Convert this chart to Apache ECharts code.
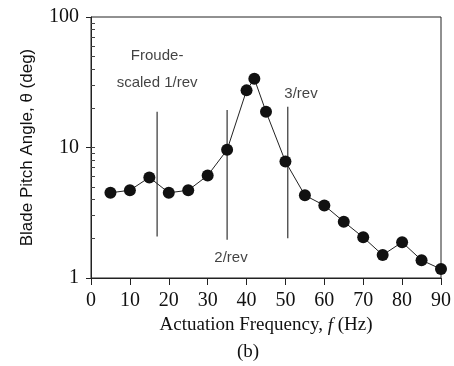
<!DOCTYPE html>
<html>
<head>
<meta charset="utf-8">
<script src="https://cdn.jsdelivr.net/npm/echarts@6/dist/echarts.min.js"></script>
<style>
  html, body { margin: 0; padding: 0; background: #fff; }
  #chart_b { width: 454px; height: 366px; }
</style>
</head>
<body>
<div id="chart_b"></div>
<script>
// measured points (Hz, deg)
var freqHz = [5, 10, 15, 20, 25, 30, 35, 40, 42, 45, 50, 55, 60, 65, 70, 75, 80, 85, 90];
var pitchDeg = [4.5, 4.7, 5.9, 4.5, 4.7, 6.1, 9.6, 27.4, 33.6, 18.8, 7.8, 4.3, 3.6, 2.7, 2.05, 1.5, 1.88, 1.37, 1.17];

// per-rev marker lines
var revHz = [17, 35, 50.6];
var revTop = [18.8, 19.4, 20.5];
var revBottom = [2.08, 1.96, 2.02];

// notes
var noteText = ['Froude-\nscaled 1/rev', '2/rev', '3/rev'];
var noteHz = [17, 36, 54];
var noteDeg = [40, 1.43, 25.6];

var xTicks = [0, 10, 20, 30, 40, 50, 60, 70, 80, 90];
var yTicks = [1, 10, 100];
var yMinorTicks = [2, 3, 4, 5, 6, 7, 8, 9, 10, 20, 30, 40, 50, 60, 70, 80, 90];

chart_b();
function chart_b() {
    var dom = document.getElementById('chart_b');
    var myChart = echarts.init(dom, null, { renderer: 'canvas' });
    var serif = '"Liberation Serif", "DejaVu Serif", serif';
    var sans = '"Liberation Sans", Arial, sans-serif';
    var ink = '#111';

    var points = freqHz.map(function (f, i) { return [f, pitchDeg[i]]; });

    var series = [];
    revHz.forEach(function (f, i) {
        series.push({
            type: 'line',
            data: [[f, revBottom[i]], [f, revTop[i]]],
            symbol: 'none',
            lineStyle: { color: '#333', width: 1.2 },
            z: 2
        });
    });
    series.push({
        type: 'line',
        data: points,
        symbol: 'circle',
        symbolSize: 12,
        itemStyle: { color: '#111' },
        lineStyle: { color: '#222', width: 1 },
        z: 3
    });
    series.push({
        type: 'scatter',
        symbolSize: 0,
        data: noteHz.map(function (f, i) { return { value: [f, noteDeg[i]], name: noteText[i] }; }),
        label: {
            show: true,
            position: 'inside',
            formatter: function (p) { return p.name; },
            fontFamily: sans,
            fontSize: 15,
            color: ink,
            lineHeight: 27,
            align: 'center'
        },
        z: 4
    });

    var option = {
        animation: false,
        backgroundColor: '#fff',
        grid: { left: 91, right: 13, top: 17, bottom: 88, show: true, borderColor: '#222', borderWidth: 1 },
        xAxis: {
            type: 'value',
            min: 0, max: 90, interval: 10,
            name: '{n|Actuation Frequency, }{i|f}{n| (Hz)}',
            nameLocation: 'middle',
            nameGap: 38,
            nameTextStyle: {
                rich: {
                    n: { fontFamily: serif, fontSize: 19, color: ink },
                    i: { fontFamily: serif, fontSize: 19, fontStyle: 'italic', color: ink }
                }
            },
            axisLine: { lineStyle: { color: '#222' } },
            axisTick: { show: true, length: 7, lineStyle: { color: '#222' } },
            axisLabel: { fontFamily: serif, fontSize: 20, color: ink, margin: 13 },
            splitLine: { show: false }
        },
        yAxis: [{
            type: 'log',
            logBase: 10,
            min: 1, max: 100,
            name: 'Blade Pitch Angle, θ (deg)',
            nameLocation: 'middle',
            nameRotate: 90,
            nameGap: 55,
            nameTextStyle: { fontFamily: sans, fontSize: 17, color: ink },
            axisLine: { show: true, lineStyle: { color: '#222' } },
            axisTick: { show: true, length: 5, customValues: yTicks, lineStyle: { color: '#222' } },
            axisLabel: { fontFamily: serif, fontSize: 20, color: ink, margin: 12, customValues: yTicks },
            splitLine: { show: false }
        }, {
            type: 'log',
            logBase: 10,
            min: 1, max: 100,
            position: 'left',
            axisLine: { show: false },
            axisTick: { show: true, inside: true, length: 4, customValues: yMinorTicks, lineStyle: { color: '#444' } },
            axisLabel: { show: false },
            splitLine: { show: false }
        }],
        series: series,
        graphic: [{
            type: 'text',
            left: 237,
            top: 343,
            style: { text: '(b)', fontFamily: serif, fontSize: 19, fill: ink }
        }]
    };
    myChart.setOption(option);
}
</script>
</body>
</html>
